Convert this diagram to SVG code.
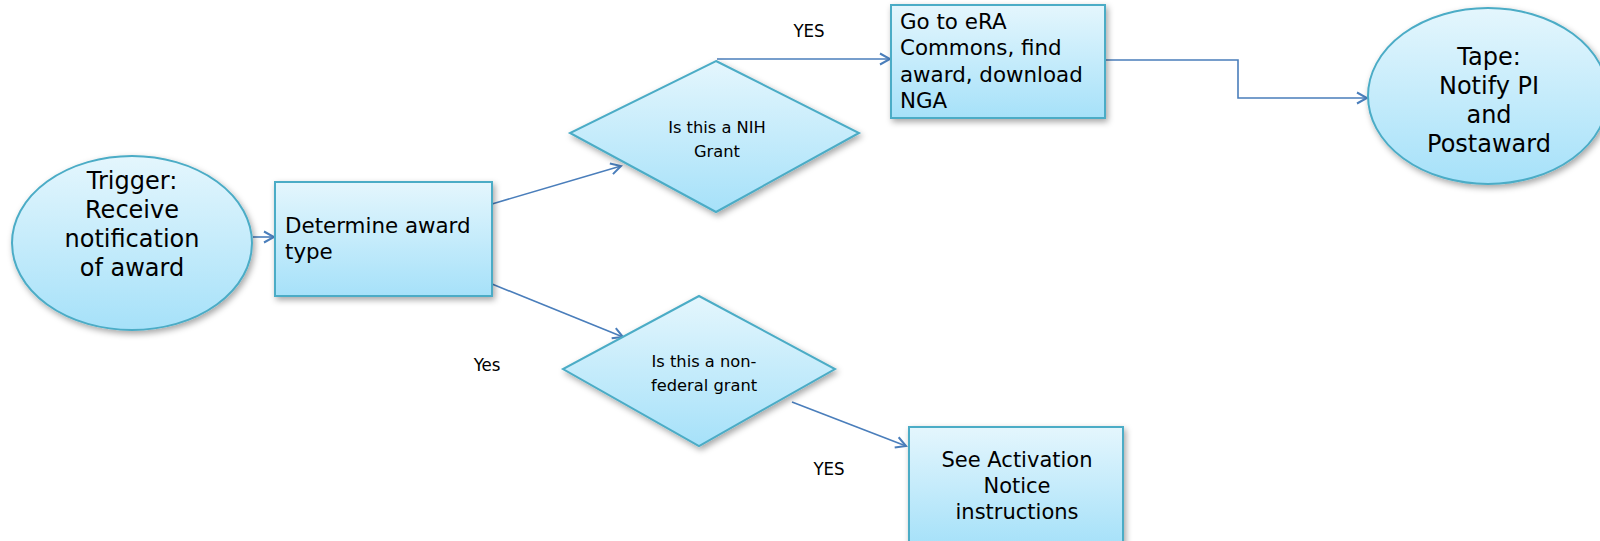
<svg xmlns="http://www.w3.org/2000/svg" width="1600" height="541" viewBox="0 0 1600 541">
<style>
.shape{fill:url(#g);stroke:#4bacc6;stroke-width:2;filter:url(#sh)}
.c{fill:none;stroke:#4a7ebb;stroke-width:1.6;marker-end:url(#ar)}
text{font-family:"DejaVu Sans","Liberation Sans",sans-serif;fill:#000}
.el{font-size:24px;text-anchor:middle}
.bx{font-size:21.4px}
.bxc{font-size:21px;text-anchor:middle}
.dm{font-size:16.3px;text-anchor:middle}
.lb{font-family:"DejaVu Sans Condensed","DejaVu Sans","Liberation Sans",sans-serif;font-stretch:condensed;font-size:18.5px;text-anchor:middle}
</style>
<defs>
<linearGradient id="g" x1="0" y1="0" x2="0" y2="1">
<stop offset="0" stop-color="#e4f6fd"/>
<stop offset="1" stop-color="#a6e1f9"/>
</linearGradient>
<filter id="sh" x="-20%" y="-20%" width="140%" height="150%">
<feDropShadow dx="2" dy="3" stdDeviation="3" flood-color="#000" flood-opacity="0.35"/>
</filter>
<marker id="ar" markerWidth="14" markerHeight="14" refX="12" refY="7" orient="auto" markerUnits="userSpaceOnUse">
<path d="M2,1.5 L12,7 L2,12.5" fill="none" stroke="#4a7ebb" stroke-width="2"/>
</marker>
</defs>
<rect width="1600" height="541" fill="#fff"/>
<g id="connectors">
<path class="c" d="M253,237 L274,237"/>
<path class="c" d="M492,204 L621,166"/>
<path class="c" d="M492,284 L623,337"/>
<path class="c" d="M717,59 L890,59"/>
<path class="c" d="M1105,60 L1238,60 L1238,98 L1367,98"/>
<path class="c" d="M792,402 L906,446"/>
</g>
<g id="trigger">
<ellipse class="shape" cx="132" cy="243" rx="120" ry="87"/>
<text class="el" x="132" y="189">Trigger:</text>
<text class="el" x="132" y="218">Receive</text>
<text class="el" x="132" y="247">notification</text>
<text class="el" x="132" y="276">of award</text>
</g>
<g id="determine">
<rect class="shape" x="275" y="182" width="217" height="114"/>
<text class="bx" x="285" y="233">Determine award</text>
<text class="bx" x="285" y="259">type</text>
</g>
<g id="nih">
<polygon class="shape" points="716,61 859,133 716,212 570,133"/>
<text class="dm" x="717" y="133">Is this a NIH</text>
<text class="dm" x="717" y="157">Grant</text>
</g>
<g id="era">
<rect class="shape" x="891" y="5" width="214" height="113"/>
<text class="bx" x="900" y="29">Go to eRA</text>
<text class="bx" x="900" y="55">Commons, find</text>
<text class="bx" x="900" y="82">award, download</text>
<text class="bx" x="900" y="108">NGA</text>
</g>
<g id="tape">
<ellipse class="shape" cx="1488" cy="96" rx="120" ry="88"/>
<text class="el" x="1489" y="65">Tape:</text>
<text class="el" x="1489" y="94">Notify PI</text>
<text class="el" x="1489" y="123">and</text>
<text class="el" x="1489" y="152">Postaward</text>
</g>
<g id="nonfederal">
<polygon class="shape" points="699,296 835,369 699,446 563,369"/>
<text class="dm" x="704" y="367">Is this a non-</text>
<text class="dm" x="704" y="391">federal grant</text>
</g>
<g id="activation">
<rect class="shape" x="909" y="427" width="214" height="118"/>
<text class="bxc" x="1017" y="467">See Activation</text>
<text class="bxc" x="1017" y="493">Notice</text>
<text class="bxc" x="1017" y="519">instructions</text>
</g>
<g id="labels">
<text class="lb" x="809" y="37">YES</text>
<text class="lb" x="487" y="371">Yes</text>
<text class="lb" x="829" y="475">YES</text>
</g>
</svg>
